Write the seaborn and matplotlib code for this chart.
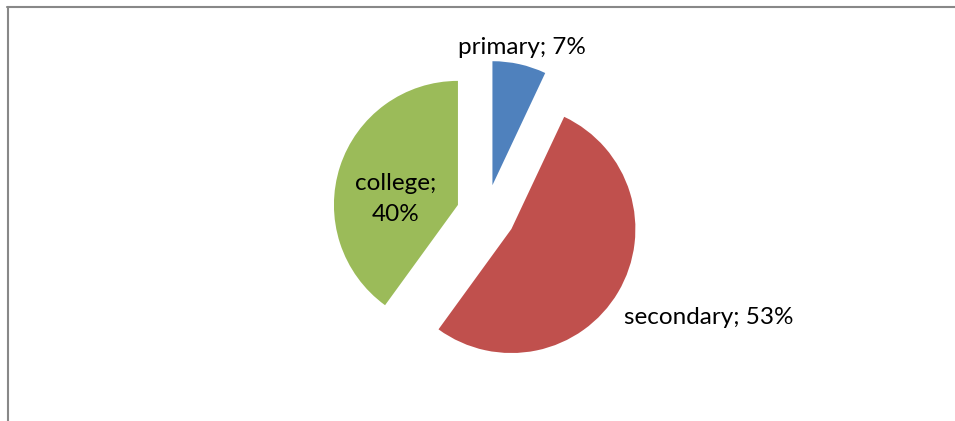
import matplotlib
matplotlib.use("Agg")
import matplotlib.pyplot as plt
from matplotlib.lines import Line2D
import seaborn as sns

# Education level shares (percent)
categories = ["primary", "secondary", "college"]
shares = [7, 53, 40]
colors = ["#4F81BD", "#C0504D", "#9BBB59"]

# label text and where each one sits (pixel coords, origin bottom-left)
label_texts = [f"{c}; {v}%" for c, v in zip(categories, shares)]
label_texts[2] = f"{categories[2]};\n{shares[2]}%"
label_pos = [(522, 374), (709, 103), (396, 222)]

sns.set_theme(style="white")
plt.rcParams["font.family"] = ["Lato", "DejaVu Sans"]

W, H = 955, 421
fig = plt.figure(figsize=(W / 100, H / 100), dpi=100)
ax = fig.add_axes([0, 0, 1, 1])

# explode is in data units here (pixels), since radius is in pixels too
ax.pie(shares, colors=colors, startangle=90, counterclock=False,
       explode=[29.5] * len(shares), radius=124, center=(486, 207),
       wedgeprops=dict(linewidth=0))

ax.set_xlim(0, W)
ax.set_ylim(0, H)
ax.set_aspect("equal")
ax.axis("off")

for txt, (x, y) in zip(label_texts, label_pos):
    ax.text(x, y, txt, ha="center", va="center", fontsize=17.5,
            color="black", linespacing=1.55)

# chart frame (only left and top edges visible in the crop)
fig.add_artist(Line2D([7.5 / W, 7.5 / W], [0, 1 - 6.5 / H],
                      transform=fig.transFigure, color="#888888", lw=1.5))
fig.add_artist(Line2D([7 / W, 1], [1 - 6.5 / H, 1 - 6.5 / H],
                      transform=fig.transFigure, color="#888888", lw=1.5))

fig.savefig("out.png", dpi=100)
